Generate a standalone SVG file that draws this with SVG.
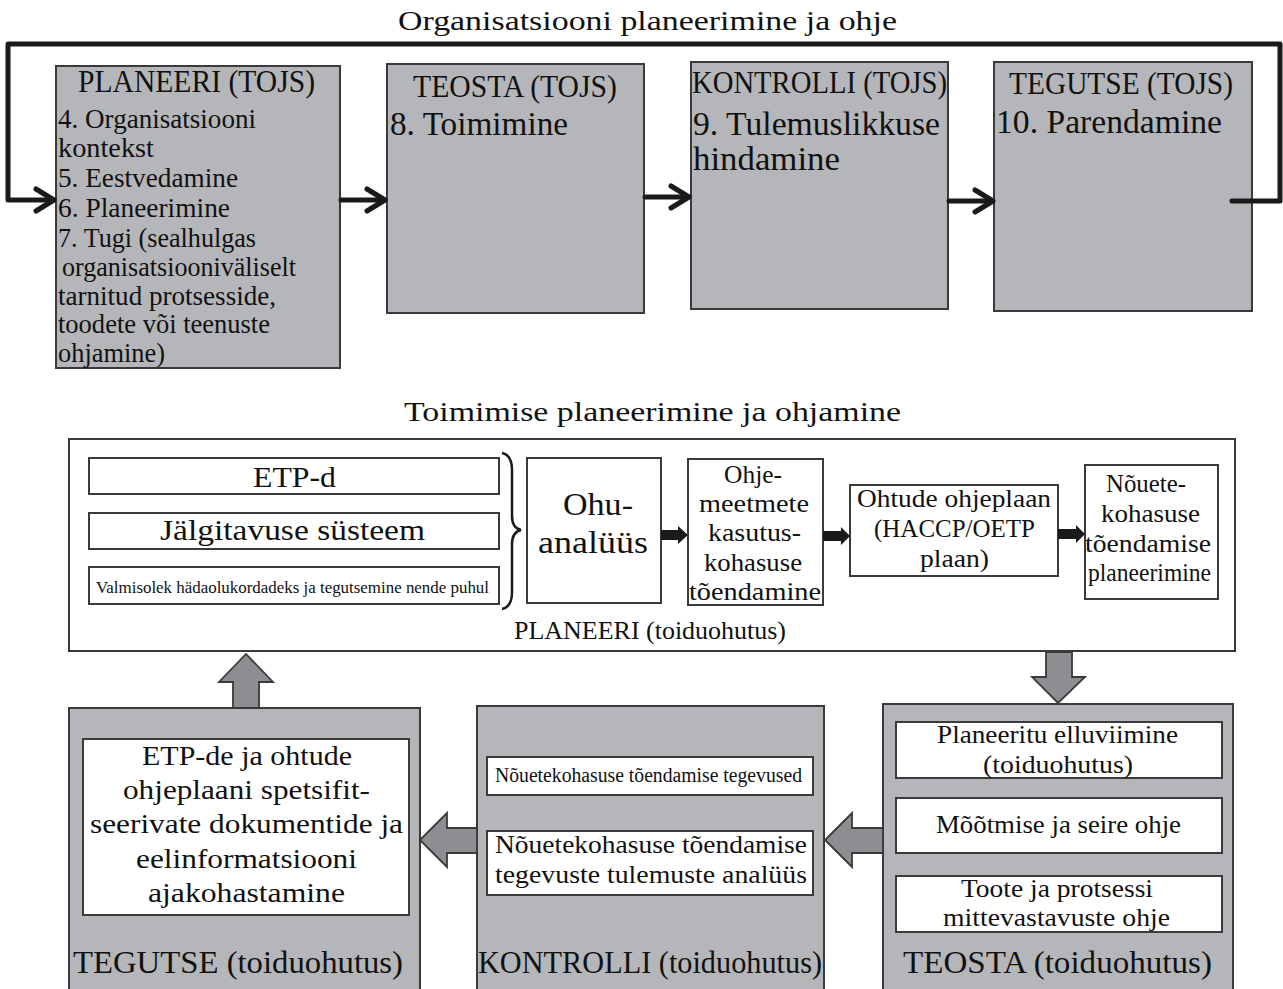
<svg xmlns="http://www.w3.org/2000/svg" width="1283" height="989" viewBox="0 0 1283 989">
<style>
text{font-family:"Liberation Serif","Times New Roman",serif;fill:#111}
.g{fill:#b5b6b9;stroke:#3a3a3a;stroke-width:2}
.w{fill:#fff;stroke:#3a3a3a;stroke-width:2}
.ba{fill:#8d8e91;stroke:#3a3a3a;stroke-width:1.8;stroke-linejoin:miter}
.ln{fill:none;stroke:#1a1a1a;stroke-width:5;stroke-linecap:round;stroke-linejoin:round}
.sa{fill:#1a1a1a}
</style>
<rect width="1283" height="989" fill="#fff"/>
<text x="398" y="30" font-size="28" textLength="499" lengthAdjust="spacingAndGlyphs">Organisatsiooni planeerimine ja ohje</text>
<text x="404" y="421" font-size="28" textLength="497" lengthAdjust="spacingAndGlyphs">Toimimise planeerimine ja ohjamine</text>

<g id="top-planeeri">
<rect class="g" x="56" y="66" width="284" height="302"/>
<text x="78" y="92" font-size="31" textLength="237" lengthAdjust="spacingAndGlyphs">PLANEERI (TOJS)</text>
<g font-size="27">
<text x="58" y="128" textLength="198" lengthAdjust="spacingAndGlyphs">4. Organisatsiooni</text>
<text x="58" y="157" textLength="96" lengthAdjust="spacingAndGlyphs">kontekst</text>
<text x="58" y="187" textLength="180" lengthAdjust="spacingAndGlyphs">5. Eestvedamine</text>
<text x="58" y="217" textLength="172" lengthAdjust="spacingAndGlyphs">6. Planeerimine</text>
<text x="58" y="247" textLength="198" lengthAdjust="spacingAndGlyphs">7. Tugi (sealhulgas</text>
<text x="62" y="276" textLength="234" lengthAdjust="spacingAndGlyphs">organisatsiooniväliselt</text>
<text x="58" y="305" textLength="218" lengthAdjust="spacingAndGlyphs">tarnitud protsesside,</text>
<text x="58" y="333" textLength="212" lengthAdjust="spacingAndGlyphs">toodete või teenuste</text>
<text x="58" y="362" textLength="107" lengthAdjust="spacingAndGlyphs">ohjamine)</text>
</g>
</g>

<g id="top-teosta">
<rect class="g" x="387" y="64" width="257" height="249"/>
<text x="413" y="97" font-size="31" textLength="204" lengthAdjust="spacingAndGlyphs">TEOSTA (TOJS)</text>
<text x="390" y="135" font-size="33" textLength="178" lengthAdjust="spacingAndGlyphs">8. Toimimine</text>
</g>

<g id="top-kontrolli">
<rect class="g" x="691" y="62" width="257" height="247"/>
<text x="692" y="93" font-size="31" textLength="255" lengthAdjust="spacingAndGlyphs">KONTROLLI (TOJS)</text>
<text x="693" y="135" font-size="33" textLength="247" lengthAdjust="spacingAndGlyphs">9. Tulemuslikkuse</text>
<text x="693" y="170" font-size="33" textLength="147" lengthAdjust="spacingAndGlyphs">hindamine</text>
</g>

<g id="top-tegutse">
<rect class="g" x="994" y="62" width="258" height="249"/>
<text x="1009" y="94" font-size="31" textLength="224" lengthAdjust="spacingAndGlyphs">TEGUTSE (TOJS)</text>
<text x="996" y="133" font-size="33" textLength="226" lengthAdjust="spacingAndGlyphs">10. Parendamine</text>
</g>

<g id="plan-box">
<rect class="w" x="69" y="439" width="1166" height="212"/>
<text x="514" y="639" font-size="25" textLength="272" lengthAdjust="spacingAndGlyphs">PLANEERI (toiduohutus)</text>
</g>
<g id="etp">
<rect class="w" x="89" y="458" width="410" height="36"/>
<text x="253" y="487" font-size="29" textLength="83" lengthAdjust="spacingAndGlyphs">ETP-d</text>
</g>
<g id="jalgitavus">
<rect class="w" x="89" y="513" width="410" height="36"/>
<text x="160" y="540" font-size="29" textLength="265" lengthAdjust="spacingAndGlyphs">Jälgitavuse süsteem</text>
</g>
<g id="valmisolek">
<rect class="w" x="89" y="567" width="410" height="37"/>
<text x="96" y="593" font-size="17" textLength="393" lengthAdjust="spacingAndGlyphs">Valmisolek hädaolukordadeks ja tegutsemine nende puhul</text>
</g>
<g id="ohuanaluus">
<rect class="w" x="527" y="458" width="134" height="145"/>
<text x="563" y="515" font-size="31" textLength="70" lengthAdjust="spacingAndGlyphs">Ohu-</text>
<text x="538" y="553" font-size="31" textLength="110" lengthAdjust="spacingAndGlyphs">analüüs</text>
</g>
<g id="ohjemeetmete">
<rect class="w" x="688" y="459" width="135" height="146"/>
<g font-size="25">
<text x="724" y="483" textLength="58" lengthAdjust="spacingAndGlyphs">Ohje-</text>
<text x="699" y="512" textLength="110" lengthAdjust="spacingAndGlyphs">meetmete</text>
<text x="708" y="541" textLength="93" lengthAdjust="spacingAndGlyphs">kasutus-</text>
<text x="704" y="571" textLength="98" lengthAdjust="spacingAndGlyphs">kohasuse</text>
<text x="689" y="600" textLength="132" lengthAdjust="spacingAndGlyphs">tõendamine</text>
</g>
</g>
<g id="ohjeplaan">
<rect class="w" x="850" y="485" width="208" height="91"/>
<g font-size="25">
<text x="857" y="507" textLength="194" lengthAdjust="spacingAndGlyphs">Ohtude ohjeplaan</text>
<text x="874" y="537" textLength="161" lengthAdjust="spacingAndGlyphs">(HACCP/OETP</text>
<text x="920" y="567" textLength="69" lengthAdjust="spacingAndGlyphs">plaan)</text>
</g>
</g>
<g id="nouetekohasus">
<rect class="w" x="1085" y="465" width="133" height="134"/>
<g font-size="25">
<text x="1106" y="492" textLength="80" lengthAdjust="spacingAndGlyphs">Nõuete-</text>
<text x="1101" y="522" textLength="99" lengthAdjust="spacingAndGlyphs">kohasuse</text>
<text x="1085" y="552" textLength="126" lengthAdjust="spacingAndGlyphs">tõendamise</text>
<text x="1088" y="581" textLength="123" lengthAdjust="spacingAndGlyphs">planeerimine</text>
</g>
</g>

<g id="bot-tegutse">
<rect class="g" x="69" y="708" width="351" height="290"/>
<rect class="w" x="83" y="739" width="326" height="176"/>
<g font-size="28">
<text x="142" y="765" textLength="210" lengthAdjust="spacingAndGlyphs">ETP-de ja ohtude</text>
<text x="123" y="799" textLength="247" lengthAdjust="spacingAndGlyphs">ohjeplaani spetsifit-</text>
<text x="90" y="833" textLength="313" lengthAdjust="spacingAndGlyphs">seerivate dokumentide ja</text>
<text x="136" y="868" textLength="221" lengthAdjust="spacingAndGlyphs">eelinformatsiooni</text>
<text x="148" y="902" textLength="197" lengthAdjust="spacingAndGlyphs">ajakohastamine</text>
</g>
<text x="73" y="973" font-size="31" textLength="330" lengthAdjust="spacingAndGlyphs">TEGUTSE (toiduohutus)</text>
</g>

<g id="bot-kontrolli">
<rect class="g" x="477" y="706" width="347" height="292"/>
<rect class="w" x="487" y="757" width="326" height="38"/>
<text x="495" y="782" font-size="20" textLength="307" lengthAdjust="spacingAndGlyphs">Nõuetekohasuse tõendamise tegevused</text>
<rect class="w" x="487" y="831" width="326" height="64"/>
<text x="495" y="853" font-size="26" textLength="312" lengthAdjust="spacingAndGlyphs">Nõuetekohasuse tõendamise</text>
<text x="495" y="883" font-size="26" textLength="312" lengthAdjust="spacingAndGlyphs">tegevuste tulemuste analüüs</text>
<text x="478" y="973" font-size="31" textLength="344" lengthAdjust="spacingAndGlyphs">KONTROLLI (toiduohutus)</text>
</g>

<g id="bot-teosta">
<rect class="g" x="883" y="704" width="350" height="294"/>
<rect class="w" x="896" y="722" width="326" height="56"/>
<text x="937" y="743" font-size="26" textLength="241" lengthAdjust="spacingAndGlyphs">Planeeritu elluviimine</text>
<text x="983" y="773" font-size="26" textLength="150" lengthAdjust="spacingAndGlyphs">(toiduohutus)</text>
<rect class="w" x="896" y="798" width="326" height="55"/>
<text x="936" y="833" font-size="26" textLength="245" lengthAdjust="spacingAndGlyphs">Mõõtmise ja seire ohje</text>
<rect class="w" x="896" y="876" width="326" height="56"/>
<text x="961" y="897" font-size="26" textLength="192" lengthAdjust="spacingAndGlyphs">Toote ja protsessi</text>
<text x="943" y="926" font-size="26" textLength="227" lengthAdjust="spacingAndGlyphs">mittevastavuste ohje</text>
<text x="903" y="973" font-size="31" textLength="309" lengthAdjust="spacingAndGlyphs">TEOSTA (toiduohutus)</text>
</g>

<g id="connectors">
<polyline class="ln" points="1232,201 1280,201 1280,44 8,44 8,200 53,200"/>
<polyline class="ln" points="36,189 54,200 36,211"/>
<line class="ln" x1="341" y1="200" x2="384" y2="200"/>
<polyline class="ln" points="367,189 385,200 367,211"/>
<line class="ln" x1="645" y1="197" x2="688" y2="197"/>
<polyline class="ln" points="671,186 689,197 671,208"/>
<line class="ln" x1="949" y1="201" x2="992" y2="201"/>
<polyline class="ln" points="975,190 993,201 975,212"/>

<polygon class="sa" points="661,530 678,530 678,526 688,535 678,544 678,540 661,540"/>
<polygon class="sa" points="823,531 841,531 841,527 850,536 841,545 841,541 823,541"/>
<polygon class="sa" points="1058,529 1076,529 1076,525 1085,534 1076,543 1076,539 1058,539"/>
<path d="M502,453 Q512,455 512,470 L512,516 Q512,528 521,530 Q512,532 512,544 L512,592 Q512,607 502,609" fill="none" stroke="#1a1a1a" stroke-width="2.5"/>

<polygon class="ba" points="1046,652 1072,652 1072,677 1085,677 1058,703 1032,677 1046,677"/>
<polygon class="ba" points="883,828 852,828 852,813 825,840 852,867 852,853 883,853"/>
<polygon class="ba" points="477,828 447,828 447,813 420,840 447,867 447,853 477,853"/>
<polygon class="ba" points="233,708 233,682 219,682 246,654 273,682 259,682 259,708"/>
</g>
</svg>
